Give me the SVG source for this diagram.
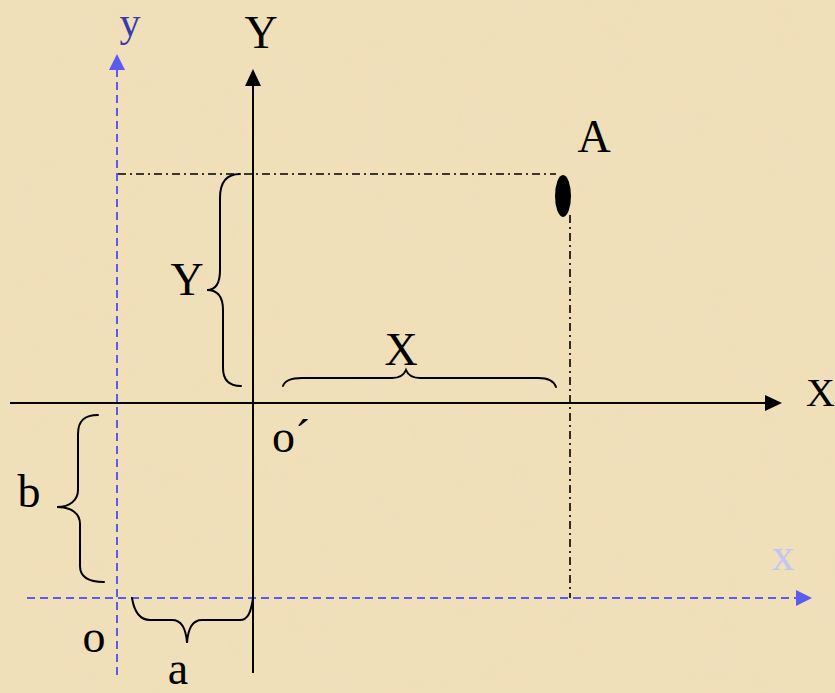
<svg xmlns="http://www.w3.org/2000/svg" width="835" height="693" viewBox="0 0 835 693">
<style>
.lbl{font-family:"Liberation Serif","Times New Roman",serif;font-size:46px;fill:#000}
.axis{stroke:#000;stroke-width:2;fill:none}
.blue{stroke:#5B5BF2;stroke-width:2;fill:none;stroke-dasharray:8 5}
.dd{stroke:#000;stroke-width:1.6;fill:none;stroke-dasharray:8 4 2 4}
.brace{stroke:#000;stroke-width:2;fill:none;stroke-linecap:round}
</style>
<defs>
<filter id="tex" x="0" y="0" width="100%" height="100%"><feTurbulence type="fractalNoise" baseFrequency="0.02" numOctaves="3" seed="4"/><feColorMatrix type="matrix" values="0 0 0 0 0.85  0 0 0 0 0.72  0 0 0 0 0.5  0 0 0 0.45 -0.1"/></filter>
</defs>
<rect width="835" height="693" fill="#F0E0B9"/>
<rect width="835" height="693" filter="url(#tex)"/>
<g id="connectors">
<line class="blue" x1="117" y1="675" x2="117" y2="70"/>
<path d="M117,54L109,70L125,70z" fill="#5B5BF2"/>
<line class="blue" x1="27" y1="598" x2="797" y2="598"/>
<path d="M812,598L796,590L796,606z" fill="#5B5BF2"/>
<line class="axis" x1="253" y1="673" x2="253" y2="85"/>
<path d="M253,69L245,86L261,86z" fill="#000"/>
<line class="axis" x1="10" y1="403" x2="766" y2="403"/>
<path d="M782,403L765,395L765,411z" fill="#000"/>
<line class="dd" x1="118" y1="174" x2="556" y2="174"/>
<line class="dd" x1="570" y1="215" x2="570" y2="598"/>
<path class="brace" d="M240,174C226,174 220,182 220,198L220,270C220,283 216,290 207,290C218,290 223,297 223,310L223,368C223,380 229,386 241,386"/>
<path class="brace" d="M283,386C285,380 292,378 302,378L392,378C400,378 404,375 406,370C408,375 412,378 420,378L538,378C548,378 554,381 556,387"/>
<path class="brace" d="M98,415C85,415 78,420 78,434L78,490C78,500 70,507 57,507C72,507 80,514 80,524L80,566C80,577 88,582 104,582"/>
<path class="brace" d="M132,598C134,610 139,620 150,620L172,620C181,620 186,628 187,643C188,628 193,620 202,620L240,620C248,620 251,612 253,598"/>
</g>
<g id="pointA"><ellipse cx="563" cy="196" rx="8" ry="21" fill="#000"/></g>
<g id="labels">
<text class="lbl" x="594" y="152" text-anchor="middle">A</text>
<text class="lbl" x="261" y="48" text-anchor="middle">Y</text>
<text class="lbl" x="187" y="295" text-anchor="middle">Y</text>
<text class="lbl" x="401" y="365" text-anchor="middle">X</text>
<text class="lbl" x="806" y="406" style="font-size:40px">X</text>
<text class="lbl" x="29" y="507" text-anchor="middle">b</text>
<text class="lbl" x="94" y="652" text-anchor="middle">o</text>
<text class="lbl" x="178" y="684" text-anchor="middle">a</text>
<text class="lbl" x="272" y="452">o´</text>
<text class="lbl" x="130" y="36" text-anchor="middle" style="fill:#3A3AAE;font-size:42px">y</text>
<text class="lbl" x="783" y="570" text-anchor="middle" style="fill:#C4C4F6">x</text>
</g>
</svg>
